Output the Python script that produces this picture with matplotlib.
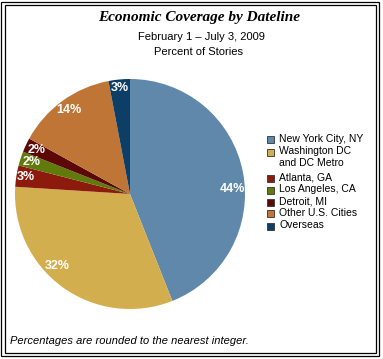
import matplotlib
matplotlib.use("Agg")
import matplotlib.pyplot as plt
from matplotlib.patches import Rectangle
import numpy as np

# data
cities = ["New York City, NY", "Washington DC\nand DC Metro", "Atlanta, GA",
          "Los Angeles, CA", "Detroit, MI", "Other U.S. Cities", "Overseas"]
shares = [44, 32, 3, 2, 2, 14, 3]
colors = ["#5F88AB", "#D3AE4F", "#8C1B0E", "#607A0C", "#5B0807", "#BF7535", "#0C3E66"]
label_r = [0.89, 0.89, 0.92, 0.9, 0.9, 0.9, 0.93]
label_turn = [-8, -9, 0, 0, 0, 0, 0]  # degrees, nudges label off the wedge middle

W, H = 383, 359
fig = plt.figure(figsize=(W / 100, H / 100), dpi=100)

def fx(px):
    return px / W

def fy(py):
    return 1 - py / H

# double frame
for x0, y0, x1, y1 in [(1.5, 1.5, 378.5, 355.5), (4.5, 4.5, 375.5, 352.5)]:
    fig.patches.append(Rectangle((fx(x0), fy(y1)), fx(x1) - fx(x0), fy(y0) - fy(y1),
                                 transform=fig.transFigure, fill=False,
                                 edgecolor="black", linewidth=0.9))

# titles
fig.text(fx(199), fy(17), "Economic Coverage by Dateline", ha="center", va="center",
         family="Liberation Serif", fontsize=11, fontweight="bold", style="italic")
fig.text(fx(201), fy(37), "February 1 \u2013 July 3, 2009", ha="center", va="center",
         family="Liberation Sans", fontsize=8)
fig.text(fx(198), fy(52), "Percent of Stories", ha="center", va="center",
         family="Liberation Sans", fontsize=8)
fig.text(fx(10), fy(341), "Percentages are rounded to the nearest integer.",
         ha="left", va="center", family="Liberation Sans", fontsize=8, style="italic")

# pie
ax = fig.add_axes([fx(15), fy(309), fx(230), 230 / H])
wedges, _ = ax.pie(shares, colors=colors, startangle=90, counterclock=False,
                   radius=1, wedgeprops=dict(linewidth=0))
ax.set_xlim(-1, 1)
ax.set_ylim(-1, 1)
ax.set_aspect("equal")
ax.axis("off")

for w, v, r, t in zip(wedges, shares, label_r, label_turn):
    ang = np.deg2rad((w.theta1 + w.theta2) / 2 + t)
    ax.text(r * np.cos(ang), r * np.sin(ang), f"{v}%", ha="center", va="center",
            color="white", fontsize=9, fontweight="bold", family="Liberation Sans")

# legend
y = 140
for name, c in zip(cities, colors):
    fig.patches.append(Rectangle((fx(267), fy(y + 3.5)), fx(7), 7 / H,
                                 transform=fig.transFigure, facecolor=c,
                                 edgecolor="#333333", linewidth=0.6))
    fig.text(fx(279), fy(y - 6), name, ha="left", va="top",
             family="Liberation Sans", fontsize=7.5, linespacing=1.25)
    y += 12 + 14 * name.count("\n")

fig.savefig("out.png", dpi=100)
